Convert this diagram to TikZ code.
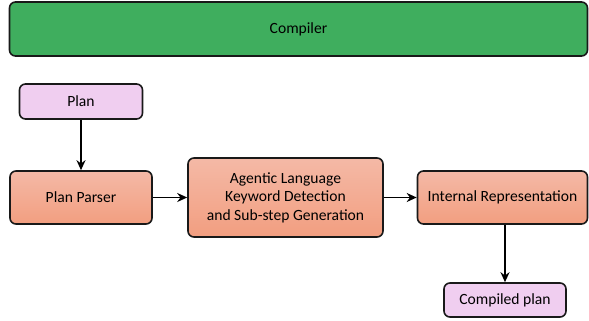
\documentclass[tikz,border=0pt]{standalone}
\usepackage{fontspec}
\setmainfont{Carlito}
\usetikzlibrary{arrows.meta}
\definecolor{cgreen}{HTML}{3FAE5E}
\definecolor{cpink}{HTML}{F0CEF0}
\definecolor{corTop}{HTML}{F4B9A6}
\definecolor{corBot}{HTML}{F29E80}
\tikzset{
  box/.style={draw=black!90, line width=1.6pt, rounded corners=6pt, align=center, font=\fontsize{15.6}{18.5}\selectfont, inner sep=0pt},
  greenbox/.style={box, fill=cgreen},
  pinkbox/.style={box, fill=cpink},
  orbox/.style={box, top color=corTop, bottom color=corBot},
  arr/.style={-{Stealth[length=10pt,width=9pt]}, line width=1.8pt, draw=black}
}
\begin{document}
\begin{tikzpicture}[x=1pt,y=-1pt]
\useasboundingbox (0,0) rectangle (589,321);
\node[greenbox, minimum width=578pt, minimum height=54pt] (comp) at (298.5,29) {Compiler};
\node[pinkbox, minimum width=123pt, minimum height=35pt] (plan) at (81,101.5) {Plan};
\node[orbox, minimum width=142pt, minimum height=53pt] (parser) at (81,197.5) {Plan Parser};
\node[orbox, minimum width=195pt, minimum height=79pt] (agent) at (285.5,197.5) {Agentic Language\\Keyword Detection\\and Sub-step Generation};
\node[orbox, minimum width=170pt, minimum height=53pt] (ir) at (502.5,197.5) {Internal Representation};
\node[pinkbox, minimum width=122pt, minimum height=34pt] (cp) at (505,300) {Compiled plan};
\draw[arr] (plan) -- (parser);
\draw[arr] (parser) -- (agent);
\draw[arr] (agent) -- (ir);
\draw[arr] (ir.south -| cp.north) -- (cp.north);
\end{tikzpicture}
\end{document}
